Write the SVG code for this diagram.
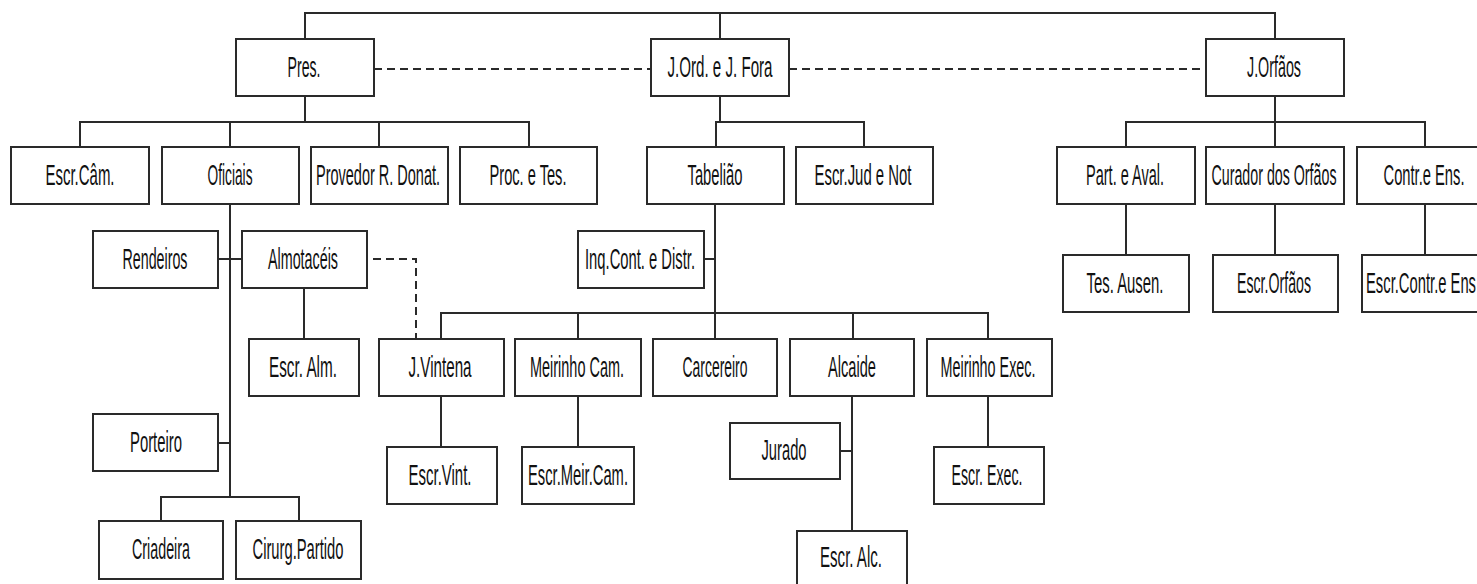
<svg xmlns="http://www.w3.org/2000/svg" width="1477" height="584" viewBox="0 0 1477 584">
<style>
.b{fill:#fff;stroke:#2a2a2a;stroke-width:2}
.t{font-family:"Liberation Sans",Arial,sans-serif;font-size:29px;fill:#111;text-anchor:middle}
.c{fill:none;stroke:#2a2a2a;stroke-width:2}
.d{fill:none;stroke:#2a2a2a;stroke-width:2;stroke-dasharray:8,5}
</style>
<rect width="1477" height="584" fill="#fff"/>
<g id="connectors">
<path class="c" d="M305 39V13H1275V39M720 13V39"/>
<path class="d" d="M374 69H651M789 69H1206"/>
<path class="c" d="M305 96V122M80 147V122H529V147M230 122V147M379 122V147"/>
<path class="c" d="M230 204V497M218 259H242M218 443H230M161 521V497H299V521M304 288V339"/>
<path class="d" d="M373 259H416V339"/>
<path class="c" d="M720 96V122M716 147V122H864V147"/>
<path class="c" d="M715 204V339M704 259H715M441 339V313H988V339M578 313V339M853 313V339"/>
<path class="c" d="M441 396V447M578 396V447M988 396V447M852 396V531M840 451H852"/>
<path class="c" d="M1275 96V147M1126 147V122H1425V147M1126 204V255M1275 204V255M1425 204V255"/>
</g>
<g id="pres"><rect class="b" x="236" y="39" width="138" height="57"/><text class="t" transform="translate(304 77) scale(0.5 1)" textLength="66" lengthAdjust="spacingAndGlyphs">Pres.</text></g>
<g id="jord"><rect class="b" x="651" y="39" width="138" height="57"/><text class="t" transform="translate(720 77) scale(0.5 1)" textLength="210" lengthAdjust="spacingAndGlyphs">J.Ord. e J. Fora</text></g>
<g id="jorfaos"><rect class="b" x="1206" y="39" width="138" height="57"/><text class="t" transform="translate(1274 77) scale(0.5 1)" textLength="108" lengthAdjust="spacingAndGlyphs">J.Orfãos</text></g>
<g id="esccam"><rect class="b" x="11" y="147" width="138" height="57"/><text class="t" transform="translate(80 185) scale(0.5 1)" textLength="138" lengthAdjust="spacingAndGlyphs">Escr.Câm.</text></g>
<g id="oficiais"><rect class="b" x="162" y="147" width="137" height="57"/><text class="t" transform="translate(230 185) scale(0.5 1)" textLength="90" lengthAdjust="spacingAndGlyphs">Oficiais</text></g>
<g id="provedor"><rect class="b" x="311" y="147" width="137" height="57"/><text class="t" transform="translate(378 185) scale(0.5 1)" textLength="248" lengthAdjust="spacingAndGlyphs">Provedor R. Donat.</text></g>
<g id="proc"><rect class="b" x="460" y="147" width="137" height="57"/><text class="t" transform="translate(528 185) scale(0.5 1)" textLength="154" lengthAdjust="spacingAndGlyphs">Proc. e Tes.</text></g>
<g id="tabeliao"><rect class="b" x="647" y="147" width="137" height="57"/><text class="t" transform="translate(715 185) scale(0.5 1)" textLength="110" lengthAdjust="spacingAndGlyphs">Tabelião</text></g>
<g id="escjud"><rect class="b" x="796" y="147" width="137" height="57"/><text class="t" transform="translate(863 185) scale(0.5 1)" textLength="194" lengthAdjust="spacingAndGlyphs">Escr.Jud e Not</text></g>
<g id="part"><rect class="b" x="1057" y="147" width="138" height="57"/><text class="t" transform="translate(1125 185) scale(0.5 1)" textLength="156" lengthAdjust="spacingAndGlyphs">Part. e Aval.</text></g>
<g id="curador"><rect class="b" x="1206" y="147" width="138" height="57"/><text class="t" transform="translate(1274 185) scale(0.5 1)" textLength="250" lengthAdjust="spacingAndGlyphs">Curador dos Orfãos</text></g>
<g id="contr"><rect class="b" x="1357" y="147" width="137" height="57"/><text class="t" transform="translate(1424 185) scale(0.5 1)" textLength="162" lengthAdjust="spacingAndGlyphs">Contr.e Ens.</text></g>
<g id="rendeiros"><rect class="b" x="93" y="231" width="125" height="57"/><text class="t" transform="translate(155 269) scale(0.5 1)" textLength="130" lengthAdjust="spacingAndGlyphs">Rendeiros</text></g>
<g id="almotaceis"><rect class="b" x="242" y="231" width="125" height="57"/><text class="t" transform="translate(303 269) scale(0.5 1)" textLength="140" lengthAdjust="spacingAndGlyphs">Almotacéis</text></g>
<g id="inq"><rect class="b" x="578" y="231" width="126" height="57"/><text class="t" transform="translate(640 269) scale(0.5 1)" textLength="220" lengthAdjust="spacingAndGlyphs">Inq.Cont. e Distr.</text></g>
<g id="tesausen"><rect class="b" x="1063" y="255" width="126" height="57"/><text class="t" transform="translate(1125 293) scale(0.5 1)" textLength="154" lengthAdjust="spacingAndGlyphs">Tes. Ausen.</text></g>
<g id="escorfaos"><rect class="b" x="1213" y="255" width="125" height="57"/><text class="t" transform="translate(1274 293) scale(0.5 1)" textLength="148" lengthAdjust="spacingAndGlyphs">Escr.Orfãos</text></g>
<g id="esccontr"><rect class="b" x="1362" y="255" width="126" height="57"/><text class="t" transform="translate(1421 293) scale(0.5 1)" textLength="220" lengthAdjust="spacingAndGlyphs">Escr.Contr.e Ens</text></g>
<g id="escalm"><rect class="b" x="249" y="339" width="110" height="57"/><text class="t" transform="translate(303 377) scale(0.5 1)" textLength="136" lengthAdjust="spacingAndGlyphs">Escr. Alm.</text></g>
<g id="jvintena"><rect class="b" x="379" y="339" width="125" height="57"/><text class="t" transform="translate(440 377) scale(0.5 1)" textLength="126" lengthAdjust="spacingAndGlyphs">J.Vintena</text></g>
<g id="meirinhocam"><rect class="b" x="515" y="339" width="126" height="57"/><text class="t" transform="translate(577 377) scale(0.5 1)" textLength="188" lengthAdjust="spacingAndGlyphs">Meirinho Cam.</text></g>
<g id="carcereiro"><rect class="b" x="653" y="339" width="124" height="57"/><text class="t" transform="translate(715 377) scale(0.5 1)" textLength="130" lengthAdjust="spacingAndGlyphs">Carcereiro</text></g>
<g id="alcaide"><rect class="b" x="790" y="339" width="124" height="57"/><text class="t" transform="translate(852 377) scale(0.5 1)" textLength="96" lengthAdjust="spacingAndGlyphs">Alcaide</text></g>
<g id="meirinhoexec"><rect class="b" x="927" y="339" width="125" height="57"/><text class="t" transform="translate(988 377) scale(0.5 1)" textLength="190" lengthAdjust="spacingAndGlyphs">Meirinho Exec.</text></g>
<g id="porteiro"><rect class="b" x="93" y="414" width="125" height="57"/><text class="t" transform="translate(156 452) scale(0.5 1)" textLength="104" lengthAdjust="spacingAndGlyphs">Porteiro</text></g>
<g id="jurado"><rect class="b" x="730" y="423" width="110" height="56"/><text class="t" transform="translate(784 460) scale(0.5 1)" textLength="90" lengthAdjust="spacingAndGlyphs">Jurado</text></g>
<g id="escvint"><rect class="b" x="387" y="447" width="110" height="57"/><text class="t" transform="translate(440 485) scale(0.5 1)" textLength="126" lengthAdjust="spacingAndGlyphs">Escr.Vint.</text></g>
<g id="escmeircam"><rect class="b" x="522" y="447" width="112" height="57"/><text class="t" transform="translate(578 485) scale(0.5 1)" textLength="200" lengthAdjust="spacingAndGlyphs">Escr.Meir.Cam.</text></g>
<g id="escexec"><rect class="b" x="934" y="447" width="110" height="57"/><text class="t" transform="translate(987 485) scale(0.5 1)" textLength="142" lengthAdjust="spacingAndGlyphs">Escr. Exec.</text></g>
<g id="criadeira"><rect class="b" x="99" y="521" width="124" height="58"/><text class="t" transform="translate(161 559) scale(0.5 1)" textLength="116" lengthAdjust="spacingAndGlyphs">Criadeira</text></g>
<g id="cirurg"><rect class="b" x="236" y="521" width="125" height="58"/><text class="t" transform="translate(298 559) scale(0.5 1)" textLength="182" lengthAdjust="spacingAndGlyphs">Cirurg.Partido</text></g>
<g id="escalc"><rect class="b" x="797" y="531" width="110" height="57"/><text class="t" transform="translate(851 567) scale(0.5 1)" textLength="124" lengthAdjust="spacingAndGlyphs">Escr. Alc.</text></g>
</svg>
